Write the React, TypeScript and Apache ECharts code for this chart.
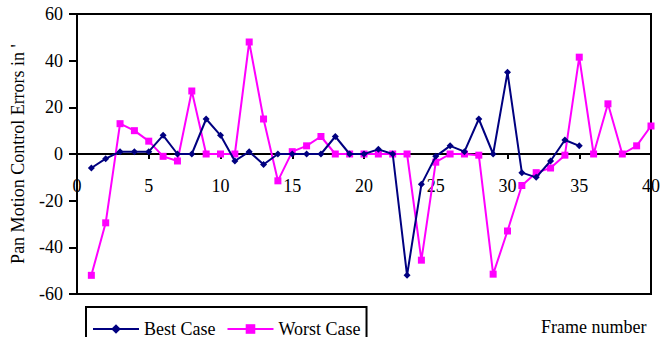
import React, { useEffect, useRef } from "react";
import * as echarts from "echarts";

const frames = [1,2,3,4,5,6,7,8,9,10,11,12,13,14,15,16,17,18,19,20,21,22,23,24,25,26,27,28,29,30,31,32,33,34,35,36,37,38,39,40];
const bestCase = [-6, -2, 1, 1, 1, 8, 0, 0, 15, 8, -3, 1, -4.5, 0, 0, 0, 0, 7.5, 0, 0, 2, 0, -52, -13, -1, 3.5, 1, 15, 0, 35, -8, -10, -3, 6, 3.5];
const worstCase = [-52, -29.5, 13, 10, 5.5, -1, -3, 27, 0, 0, 0, 48, 15, -11.5, 1, 3.5, 7.5, 0, 0, 0, 0, 0, 0, -45.5, -3.5, 0, 0, -0.5, -51.5, -33, -13.5, -8, -6, -0.5, 41.5, 0, 21.5, 0, 3.5, 12];
const seriesNames = ["Best Case", "Worst Case"];
const yTitle = "Pan Motion Control Errors in '";
const xTitle = "Frame number";

const FONT = "'Liberation Serif', 'Times New Roman', serif";
const GRID_TOP = 14;
const GRID_BOTTOM = 43;
const CHART_H = 337;

export default function App() {
  const ref = useRef<HTMLDivElement>(null);
  useEffect(() => {
    document.body.style.margin = "0";
    const chart = echarts.init(ref.current!, null, { renderer: "svg" });
    const best = bestCase.map((v, i) => [frames[i], v]);
    const worst = worstCase.map((v, i) => [frames[i], v]);
    const yMin = -60;
    const yMax = 60;
    const gridH = CHART_H - GRID_TOP - GRID_BOTTOM;
    // move the x axis (line, ticks, labels) up to the y = 0 level
    const zeroOffset = -gridH * (0 - yMin) / (yMax - yMin);
    chart.setOption({
      animation: false,
      backgroundColor: "#ffffff",
      textStyle: { fontFamily: FONT },
      grid: {
        left: 77,
        right: 14,
        top: GRID_TOP,
        bottom: GRID_BOTTOM,
        show: true,
        borderColor: "#000",
        borderWidth: 2,
        containLabel: false,
      },
      legend: {
        left: 86,
        top: 307,
        orient: "horizontal",
        data: seriesNames,
        itemWidth: 46,
        itemHeight: 12,
        itemGap: 11,
        padding: [13, 6, 40, 6],
        borderColor: "#000",
        borderWidth: 2,
        textStyle: { fontFamily: FONT, fontSize: 18, color: "#000" },
      },
      xAxis: {
        type: "value",
        min: 0,
        max: 40,
        interval: 5,
        offset: zeroOffset,
        axisLine: { onZero: false, lineStyle: { color: "#000", width: 2 } },
        axisTick: { show: true, inside: false, length: 5, lineStyle: { color: "#000", width: 2 } },
        axisLabel: { fontFamily: FONT, fontSize: 18, color: "#000", margin: 23 },
        splitLine: { show: false },
      },
      yAxis: {
        type: "value",
        min: yMin,
        max: yMax,
        interval: 20,
        name: yTitle,
        nameLocation: "middle",
        nameGap: 50,
        nameRotate: 90,
        nameTextStyle: { fontFamily: FONT, fontSize: 18, color: "#000" },
        axisLine: { show: true, lineStyle: { color: "#000", width: 2 } },
        axisTick: { show: true, length: 8, lineStyle: { color: "#000", width: 2 } },
        axisLabel: { fontFamily: FONT, fontSize: 18, color: "#000", margin: 14 },
        splitLine: { show: false },
      },
      graphic: [
        {
          type: "text",
          left: 541,
          top: 318,
          style: { text: xTitle, fontFamily: FONT, fontSize: 18, fill: "#000" },
        },
      ],
      series: [
        {
          name: seriesNames[0],
          type: "line",
          data: best,
          symbol: "diamond",
          symbolSize: 7,
          itemStyle: { color: "#000080" },
          lineStyle: { color: "#000080", width: 2 },
          z: 3,
        },
        {
          name: seriesNames[1],
          type: "line",
          data: worst,
          symbol: "rect",
          symbolSize: 7,
          itemStyle: { color: "#FF00FF" },
          lineStyle: { color: "#FF00FF", width: 2 },
          z: 2,
        },
      ],
    });
    return () => chart.dispose();
  }, []);
  return (
    <div
      ref={ref}
      style={{ position: "fixed", left: 0, top: 0, width: 665, height: CHART_H }}
    />
  );
}
